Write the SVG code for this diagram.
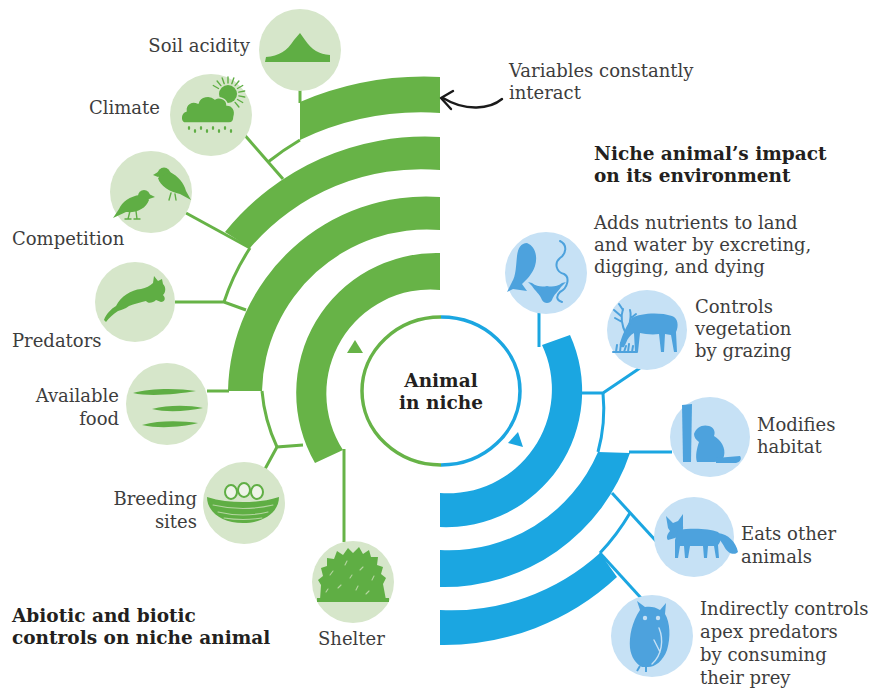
<svg xmlns="http://www.w3.org/2000/svg" width="876" height="689" viewBox="0 0 876 689">
<style>
  .lbl{font-family:"DejaVu Serif","Liberation Serif",serif;font-size:18px;fill:#3d3d3d}
  .ttl{font-family:"DejaVu Serif","Liberation Serif",serif;font-size:18.5px;font-weight:bold;fill:#231f20}
  .gband{fill:#67b347}
  .bband{fill:#1ba6e1}
  .gline{fill:none;stroke:#67b347;stroke-width:3}
  .bline{fill:none;stroke:#1ba6e1;stroke-width:3}
  .gdisc{fill:#d6e6ca}
  .bdisc{fill:#c6e1f5}
  .gicon{fill:#5fae44}
  .bicon{fill:#4da2dd}
  .gstroke{fill:none;stroke:#5fae44;stroke-width:1.4;stroke-linecap:round}
  .bstroke{fill:none;stroke:#4da2dd;stroke-width:2;stroke-linecap:round}
  .gtex{fill:none;stroke:#b5d6a1;stroke-width:1.1;stroke-linecap:round}
  .btex{fill:none;stroke:#c6e1f5;stroke-width:1.4;stroke-linecap:round}
</style>
<rect width="876" height="689" fill="#ffffff"/>

<!-- abiotic and biotic control bands (left, green) -->
<g id="abiotic-bands">
  <path class="gband" d="M300,102 A318,318 0 0 1 440,77 L440,113 A282,282 0 0 0 300,140 Z"/>
  <path class="gband" d="M225,232 A257,257 0 0 1 440,137 L440,170 A225,225 0 0 0 250,248 Z"/>
  <path class="gband" d="M228,391 A198,198 0 0 1 440,197 L440,230 A165,165 0 0 0 262,391 Z"/>
  <path class="gband" d="M315,463 A140,140 0 0 1 440,253 L440,290 A104,104 0 0 0 343,450 Z"/>
  <polygon class="gband" points="347,353 355,340 363,353"/>
</g>

<!-- impact bands (right, blue) -->
<g id="impact-bands">
  <path class="bband" d="M440,527 A136,136 0 0 0 570,335 L542,345 A104,104 0 0 1 440,493 Z"/>
  <path class="bband" d="M440,587 A196,196 0 0 0 630,453 L598,452 A162,162 0 0 1 440,550 Z"/>
  <path class="bband" d="M440,645 A254,254 0 0 0 617,577 L600,553 A221,221 0 0 1 440,610 Z"/>
  <polygon class="bband" points="508,443 518,432 523,447"/>
</g>

<!-- connectors -->
<g id="connectors">
  <path class="gline" d="M300,88 L300,103"/>
  <path class="gline" d="M300,140 A284,284 0 0 0 268,162"/>
  <path class="gline" d="M242,132 L283,179"/>
  <path class="gline" d="M186,213 L250,248"/>
  <path class="gline" d="M250,248 A228,228 0 0 0 224,302"/>
  <path class="gline" d="M175,302 L224,302 L246,310"/>
  <path class="gline" d="M207,391 L229,391"/>
  <path class="gline" d="M262,391 A165,165 0 0 0 277,447"/>
  <path class="gline" d="M303,445 L277,447 L265,469"/>
  <path class="gline" d="M344,449 L344,542"/>

  <path class="bline" d="M539,313 L539,347"/>
  <path class="bline" d="M581,393 L603,393 L640,368"/>
  <path class="bline" d="M603,393 A163,163 0 0 1 598,452"/>
  <path class="bline" d="M629,452 L672,452"/>
  <path class="bline" d="M612,493 L656,541"/>
  <path class="bline" d="M630,513 A222,222 0 0 1 600,553"/>
  <path class="bline" d="M600,553 L641,598"/>

  <!-- hand-drawn pointer to the bands -->
  <path d="M502,99 C490,109 466,112 443,98" fill="none" stroke="#1a1a1a" stroke-width="2.4" stroke-linecap="round"/>
  <path d="M453,91 L441,98 L451,109" fill="none" stroke="#1a1a1a" stroke-width="2.4" stroke-linecap="round" stroke-linejoin="round"/>
</g>

<!-- centre -->
<g id="animal-in-niche">
  <path d="M441,317 A79,74 0 0 0 441,465" fill="none" stroke="#67b347" stroke-width="3.5"/>
  <path d="M441,317 A79,74 0 0 1 441,465" fill="none" stroke="#1ba6e1" stroke-width="3.5"/>
  <text class="ttl" x="441" y="387" text-anchor="middle">Animal</text>
  <text class="ttl" x="441" y="409" text-anchor="middle">in niche</text>
</g>

<!-- abiotic / biotic controls -->
<g id="soil-acidity">
  <circle class="gdisc" cx="300" cy="50" r="41"/>
  <path class="gicon" d="M265,62 L266,57 C279,56 287,51 294,40 L300,33 L305,40 C312,50 319,54 330,55 L330,62 Z"/>
  <text class="lbl" x="250" y="52" text-anchor="end">Soil acidity</text>
</g>

<g id="climate">
  <circle class="gdisc" cx="211" cy="115" r="41"/>
  <circle class="gicon" cx="228" cy="94" r="9"/>
  <path class="gstroke" d="M218.5,88.5 L213.3,85.5 M220.9,85.6 L217.1,81 M224.2,83.7 L222.2,78 M228,83 L228,77 M231.8,83.7 L233.8,78 M235.1,85.6 L238.9,81 M237.5,88.5 L242.7,85.5 M238.8,92.1 L244.7,91 M238.8,95.9 L244.7,97 M237.5,99.5 L242.7,102.5 M235.1,102.4 L238.9,107"/>
  <path class="gicon" stroke="#d6e6ca" stroke-width="1.5" d="M184,123 C180,121 180,113 186,111 C185,104 192,100 198,103 C200,96 210,94 215,99 C219,96 227,99 227,105 C233,105 236,111 234,117 C234,121 232,123 229,123 Z"/>
  <g class="gicon">
    <ellipse cx="189" cy="128" rx="1.2" ry="2"/><ellipse cx="195" cy="131" rx="1.2" ry="2"/>
    <ellipse cx="201" cy="128" rx="1.2" ry="2"/><ellipse cx="207" cy="131" rx="1.2" ry="2"/>
    <ellipse cx="213" cy="128" rx="1.2" ry="2"/><ellipse cx="219" cy="131" rx="1.2" ry="2"/>
    <ellipse cx="225" cy="128" rx="1.2" ry="2"/><ellipse cx="231" cy="131" rx="1.2" ry="2"/>
  </g>
  <text class="lbl" x="160" y="114" text-anchor="end">Climate</text>
</g>

<g id="competition">
  <circle class="gdisc" cx="151" cy="192" r="41"/>
  <circle class="gicon" cx="164" cy="174" r="6.5"/>
  <polygon class="gicon" points="158,172 153,175 158,177"/>
  <path class="gicon" d="M158,178 C160,186 170,192 180,194 L191,200 L186,191 C184,183 178,176 170,172 Z"/>
  <path class="gstroke" d="M171,193 L169,200 M175,194 L176,200"/>
  <circle class="gicon" cx="144" cy="196" r="6"/>
  <polygon class="gicon" points="149,194 155,197 149,199"/>
  <path class="gicon" d="M149,200 C146,209 136,213 126,212 L113,218 L119,209 C122,202 130,196 140,195 Z"/>
  <path class="gstroke" d="M130,211 L128,219 M125,219 L131,219 M136,211 L137,219 M134,219 L140,219"/>
  <text class="lbl" x="12" y="245">Competition</text>
</g>

<g id="predators">
  <circle class="gdisc" cx="135" cy="302" r="40"/>
  <path class="gicon" d="M104,320 C106,314 111,309 116,306 C121,296 131,290 141,289 C146,288 150,286 153,283 L154,276 L158,281 L162,279 L163,284 C166,287 166,292 163,295 C166,298 165,302 161,302 L156,300 C153,303 148,304 146,301 C141,302 134,304 129,306 C125,309 121,310 118,311 C113,314 109,318 106,322 Z"/>
  <text class="lbl" x="12" y="347">Predators</text>
</g>

<g id="available-food">
  <circle class="gdisc" cx="167" cy="404" r="41"/>
  <path class="gicon" d="M133,393 C150,388 178,388 196,391 C178,394 150,397 133,393 Z"/>
  <path class="gicon" d="M152,409 C168,405 188,405 203,408 C188,411 168,413 152,409 Z"/>
  <path class="gicon" d="M142,425 C160,420 182,421 198,423 C182,427 160,429 142,425 Z"/>
  <text class="lbl" x="119" y="402" text-anchor="end">Available</text>
  <text class="lbl" x="119" y="425" text-anchor="end">food</text>
</g>

<g id="breeding-sites">
  <circle class="gdisc" cx="244" cy="503" r="41"/>
  <ellipse cx="231" cy="492" rx="6" ry="7" fill="#eef4e8" stroke="#5fae44" stroke-width="2"/>
  <ellipse cx="244" cy="490" rx="6" ry="7" fill="#eef4e8" stroke="#5fae44" stroke-width="2"/>
  <ellipse cx="257" cy="492" rx="6" ry="7" fill="#eef4e8" stroke="#5fae44" stroke-width="2"/>
  <path class="gicon" d="M207,497 C207,512 222,523 243,523 C264,523 279,512 279,497 C267,501 255,502 243,502 C231,502 219,501 207,497 Z"/>
  <path class="gtex" d="M213,505 Q243,512 273,505 M218,512 Q243,518 268,512 M224,518 Q243,521 262,518"/>
  <text class="lbl" x="197" y="505" text-anchor="end">Breeding</text>
  <text class="lbl" x="197" y="528" text-anchor="end">sites</text>
</g>

<g id="shelter">
  <circle class="gdisc" cx="353" cy="582" r="41"/>
  <path class="gicon" d="M320,600 L321,585 L318,580 L323,576 L321,568 L327,566 L327,558 L334,559 L337,551 L343,555 L348,548 L353,553 L359,547 L363,554 L369,550 L371,557 L378,557 L377,565 L383,567 L381,574 L386,578 L383,584 L386,600 Z"/>
  <rect class="gicon" x="317" y="598" width="72" height="4"/>
  <path class="gtex" d="M330,575 l3,-4 M345,565 l2,-4 M360,570 l3,-3 M372,580 l2,-4 M338,588 l3,-3 M356,590 l2,-4 M326,592 l2,-3 M366,594 l3,-3 M350,578 l2,-3"/>
  <text class="lbl" x="318" y="645">Shelter</text>
</g>

<!-- impact of the animal -->
<g id="nutrients">
  <circle class="bdisc" cx="546" cy="273" r="41"/>
  <path class="bicon" d="M527,243 C535,246 538,256 535,266 C532,275 526,280 522,284 L527,291 L513,289 L507,292 L512,282 C516,276 516,265 517,256 C518,248 521,243 527,243 Z"/>
  <path class="bicon" d="M532,286 L528,282 L532,283 C537,287 543,287 547,286 C551,287 557,287 562,283 L566,282 L561,287 C558,292 554,294 552,300 C550,304 544,304 542,300 C540,294 535,291 532,286 Z"/>
  <path class="bstroke" stroke-width="4" d="M560,241 C568,245 566,254 560,258 C554,263 556,272 564,274 C570,277 568,288 560,292 C556,296 556,300 562,302"/>
  <text class="lbl" x="594" y="229">Adds nutrients to land</text>
  <text class="lbl" x="594" y="251">and water by excreting,</text>
  <text class="lbl" x="594" y="273">digging, and dying</text>
</g>

<g id="controls-vegetation">
  <circle class="bdisc" cx="647" cy="330" r="40"/>
  <path class="bicon" d="M632,318 C640,313 660,312 672,316 C678,318 679,326 676,332 L677,352 L674,352 L671,335 L665,334 L664,352 L661,352 L659,334 C652,335 645,334 640,333 L638,352 L635,352 L634,333 C630,335 628,338 626,343 L624,347 C621,348 619,346 620,343 C622,336 626,326 632,318 Z"/>
  <path class="bstroke" d="M626,334 C622,326 620,318 623,309 M622,322 L615,318 M621,316 L614,310 M623,310 L619,304 M628,330 C630,322 632,316 630,310 M631,318 L636,314 M613,352 L637,352 M616,352 L617,345 M620,352 L621,343 M624,352 L626,346 M628,352 L629,344 M632,352 L633,346"/>
  <text class="lbl" x="695" y="313">Controls</text>
  <text class="lbl" x="695" y="335">vegetation</text>
  <text class="lbl" x="695" y="357">by grazing</text>
</g>

<g id="modifies-habitat">
  <circle class="bdisc" cx="710" cy="437" r="40"/>
  <path class="bicon" d="M682,405 L692,404 L691,462 L683,462 Z"/>
  <path class="bicon" d="M694,434 C696,427 703,424 709,426 C713,427 716,431 714,436 C721,440 726,448 724,456 C723,460 718,462 712,462 L697,462 C695,456 697,448 699,442 C696,440 694,437 694,434 Z"/>
  <path class="bicon" d="M716,458 L740,456 C742,459 740,462 736,463 L716,463 Z"/>
  <text class="lbl" x="757" y="431">Modifies</text>
  <text class="lbl" x="757" y="453">habitat</text>
</g>

<g id="eats-other-animals">
  <circle class="bdisc" cx="694" cy="537" r="40"/>
  <path class="bicon" d="M668,528 L666,516 L673,523 L678,521 L683,514 L683,526 C684,531 680,536 675,538 L668,540 C666,538 667,534 670,531 Z"/>
  <path class="bicon" d="M678,530 C690,528 708,528 718,532 C722,536 721,542 718,545 L719,558 L716,558 L714,546 L708,546 L707,558 L704,558 L703,546 L690,546 L688,558 L685,558 L684,546 L680,546 L678,558 L675,558 L675,540 Z"/>
  <path class="bicon" d="M718,533 C728,534 736,542 738,552 C734,556 728,553 725,548 C723,544 720,540 718,538 Z"/>
  <text class="lbl" x="741" y="540">Eats other</text>
  <text class="lbl" x="741" y="563">animals</text>
</g>

<g id="controls-apex-predators">
  <circle class="bdisc" cx="652" cy="636" r="41"/>
  <path class="bicon" d="M640,610 L637,601 L645,607 C650,606 656,607 660,610 L666,603 L665,614 C670,622 671,637 667,650 C663,661 655,667 648,667 L642,667 C636,664 631,657 630,648 C629,636 632,622 640,610 Z"/>
  <path class="btex" d="M659,628 C664,640 662,655 652,664 M654,640 L660,652"/>
  <circle cx="645" cy="618" r="2.2" fill="#c6e1f5"/>
  <circle cx="658" cy="618" r="2.2" fill="#c6e1f5"/>
  <path class="bicon" d="M640,666 L637,671 M646,667 L646,672" stroke="#4da2dd" stroke-width="2"/>
  <text class="lbl" x="700" y="615">Indirectly controls</text>
  <text class="lbl" x="700" y="638">apex predators</text>
  <text class="lbl" x="700" y="661">by consuming</text>
  <text class="lbl" x="700" y="684">their prey</text>
</g>

<!-- headings -->
<g id="headings">
  <text class="lbl" x="509" y="77">Variables constantly</text>
  <text class="lbl" x="509" y="99">interact</text>
  <text class="ttl" x="594" y="160">Niche animal’s impact</text>
  <text class="ttl" x="594" y="182">on its environment</text>
  <text class="ttl" x="12" y="622">Abiotic and biotic</text>
  <text class="ttl" x="12" y="644">controls on niche animal</text>
</g>
</svg>
